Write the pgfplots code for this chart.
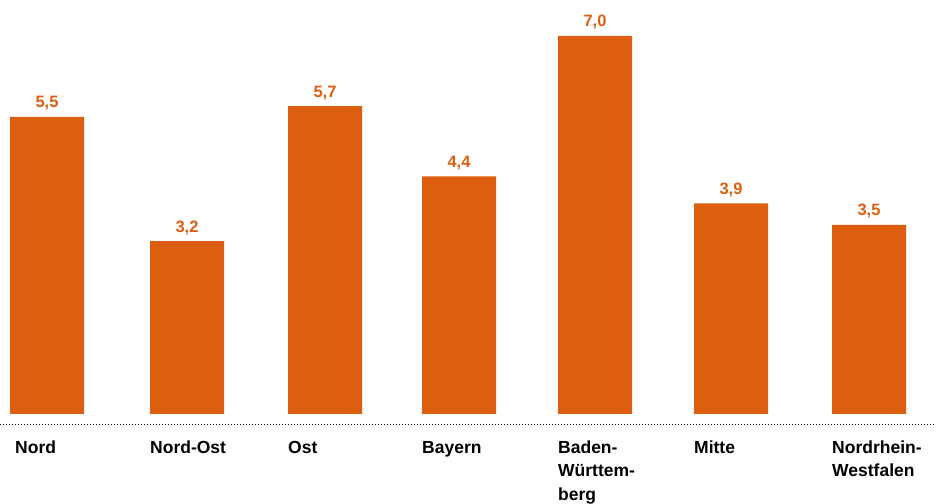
\documentclass[border=0pt]{standalone}
\usepackage{pgfplots}
\pgfplotsset{compat=1.18}
\usepackage{fontspec}
\setmainfont{Liberation Sans}
\definecolor{barorange}{RGB}{221,94,16}
% label lines stacked from the first baseline down
\newcommand{\lines}[1]{\vtop{\baselineskip=23.5pt\halign{##\hfil\cr#1\crcr}}}

\begin{document}
\begin{tikzpicture}
\begin{axis}[
    name=ax,
    scale only axis,
    width=936pt, height=504pt,
    xmin=0, xmax=936,
    ymin=-1.6667, ymax=7.6667,
    axis line style={draw=none},
    ytick=\empty,
    xtick style={draw=none},
    clip=false,
    ybar, bar width=74,
    xtick={47,187,325,459,595,731,869},
    xticklabels={\hspace*{5pt}Nord,Nord-Ost,Ost,Bayern,\lines{Baden-\cr Württem-\cr berg},Mitte,\lines{Nordrhein-\cr Westfalen}},
    xticklabel style={anchor=base west, font=\fontsize{17.5}{23.5}\selectfont\bfseries,
        xshift=-37pt, yshift=55pt, inner sep=0pt},
    nodes near coords={\pgfmathprintnumber[fixed,fixed zerofill,precision=1,use comma,assume math mode=true]{\pgfplotspointmeta}},
    nodes near coords style={anchor=base, inner sep=0pt, yshift=9pt,
        font=\fontsize{16.5}{18}\selectfont\bfseries, text=barorange},
]
\addplot[fill=barorange, draw=none] coordinates {
    (47,5.5) (187,3.2) (325,5.7) (459,4.4) (595,7.0) (731,3.9) (869,3.5)
};
\draw[black, line width=1pt, dotted] (axis cs:0,-0.2037) -- (axis cs:936,-0.2037);
\end{axis}
\pgfresetboundingbox
\path (ax.south west) rectangle (ax.north east);
\end{tikzpicture}
\end{document}
